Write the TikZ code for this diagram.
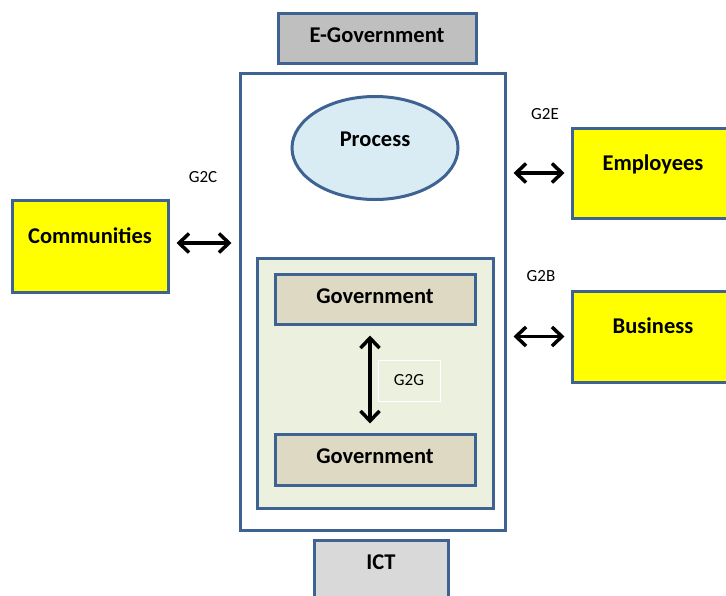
\documentclass[tikz,border=0pt]{standalone}
\usepackage{fontspec}
\setmainfont{Carlito}
\usetikzlibrary{shapes}
\usetikzlibrary{arrows.meta}
\definecolor{edgeblue}{RGB}{62,98,146}
\definecolor{egovgray}{RGB}{191,191,191}
\definecolor{ictgray}{RGB}{217,217,217}
\definecolor{processblue}{RGB}{218,236,243}
\definecolor{innergreen}{RGB}{235,241,222}
\definecolor{govtan}{RGB}{221,217,195}
\definecolor{actoryellow}{RGB}{255,255,0}
\begin{document}
\begin{tikzpicture}[x=1pt,y=-1pt]
\tikzstyle{box}=[rectangle,draw=edgeblue,line width=3pt,inner sep=0pt,font=\fontsize{22.5}{26}\selectfont\bfseries]
\tikzstyle{actor}=[box,fill=actoryellow,text height=15pt,text depth=21pt]
\tikzstyle{tag}=[font=\fontsize{17}{20}\selectfont]
\tikzstyle{link}=[{Straight Barb[length=10pt,width=19pt]}-{Straight Barb[length=10pt,width=19pt]},line width=3.5pt]
\clip (0,0) rectangle (726,595);
\fill[white] (0,0) rectangle (726,595);
\node[box,fill=egovgray,minimum width=198pt,minimum height=50pt,text height=15pt,text depth=7pt] (egov) at (377,38) {E-Government};
\node[box,fill=white,minimum width=265pt,minimum height=457pt] (main) at (372.5,301.5) {};
\node[box,ellipse,fill=processblue,minimum width=166pt,minimum height=103pt,text height=15pt,text depth=19pt] (proc) at (375,148) {Process};
\node[box,fill=innergreen,minimum width=236pt,minimum height=250pt] (inner) at (375,383) {};
\node[box,fill=govtan,minimum width=200pt,minimum height=50pt,text height=15pt,text depth=7pt] (gov1) at (375,299) {Government};
\node[box,fill=govtan,minimum width=200pt,minimum height=51pt,text height=15pt,text depth=7pt] (gov2) at (375,459.5) {Government};
\node[tag,draw=white,line width=1pt,minimum width=62pt,minimum height=41pt] (g2g) at (409,380.5) {G2G};
\node[box,fill=ictgray,minimum width=134pt,minimum height=70pt,text height=15pt,text depth=27pt] (ict) at (381,575) {ICT};
\node[actor,minimum width=156pt,minimum height=92pt] (comm) at (90,246) {Communities};
\node[actor,minimum width=168pt,minimum height=90pt] (emp) at (656,173) {\hspace*{-6pt}Employees};
\node[actor,minimum width=168pt,minimum height=91pt] (bus) at (656,336.5) {\hspace*{-6pt}Business};
\node[tag] (g2c) at (203,177) {G2C};
\node[tag] (g2e) at (545,114) {G2E};
\node[tag] (g2b) at (541,276) {G2B};
\draw[link,shorten <=7pt,shorten >=7pt] ([yshift=3pt]comm.east) -- ([yshift=3pt]comm.east -| main.west);
\draw[link,shorten <=7pt,shorten >=6pt] (emp.west -| main.east) -- (emp.west);
\draw[link,shorten <=7pt,shorten >=6pt] (bus.west -| main.east) -- (bus.west);
\draw[link,shorten <=10pt,shorten >=9pt] ([xshift=-5pt]gov1.south) -- ([xshift=-5pt]gov2.north);
\end{tikzpicture}
\end{document}
